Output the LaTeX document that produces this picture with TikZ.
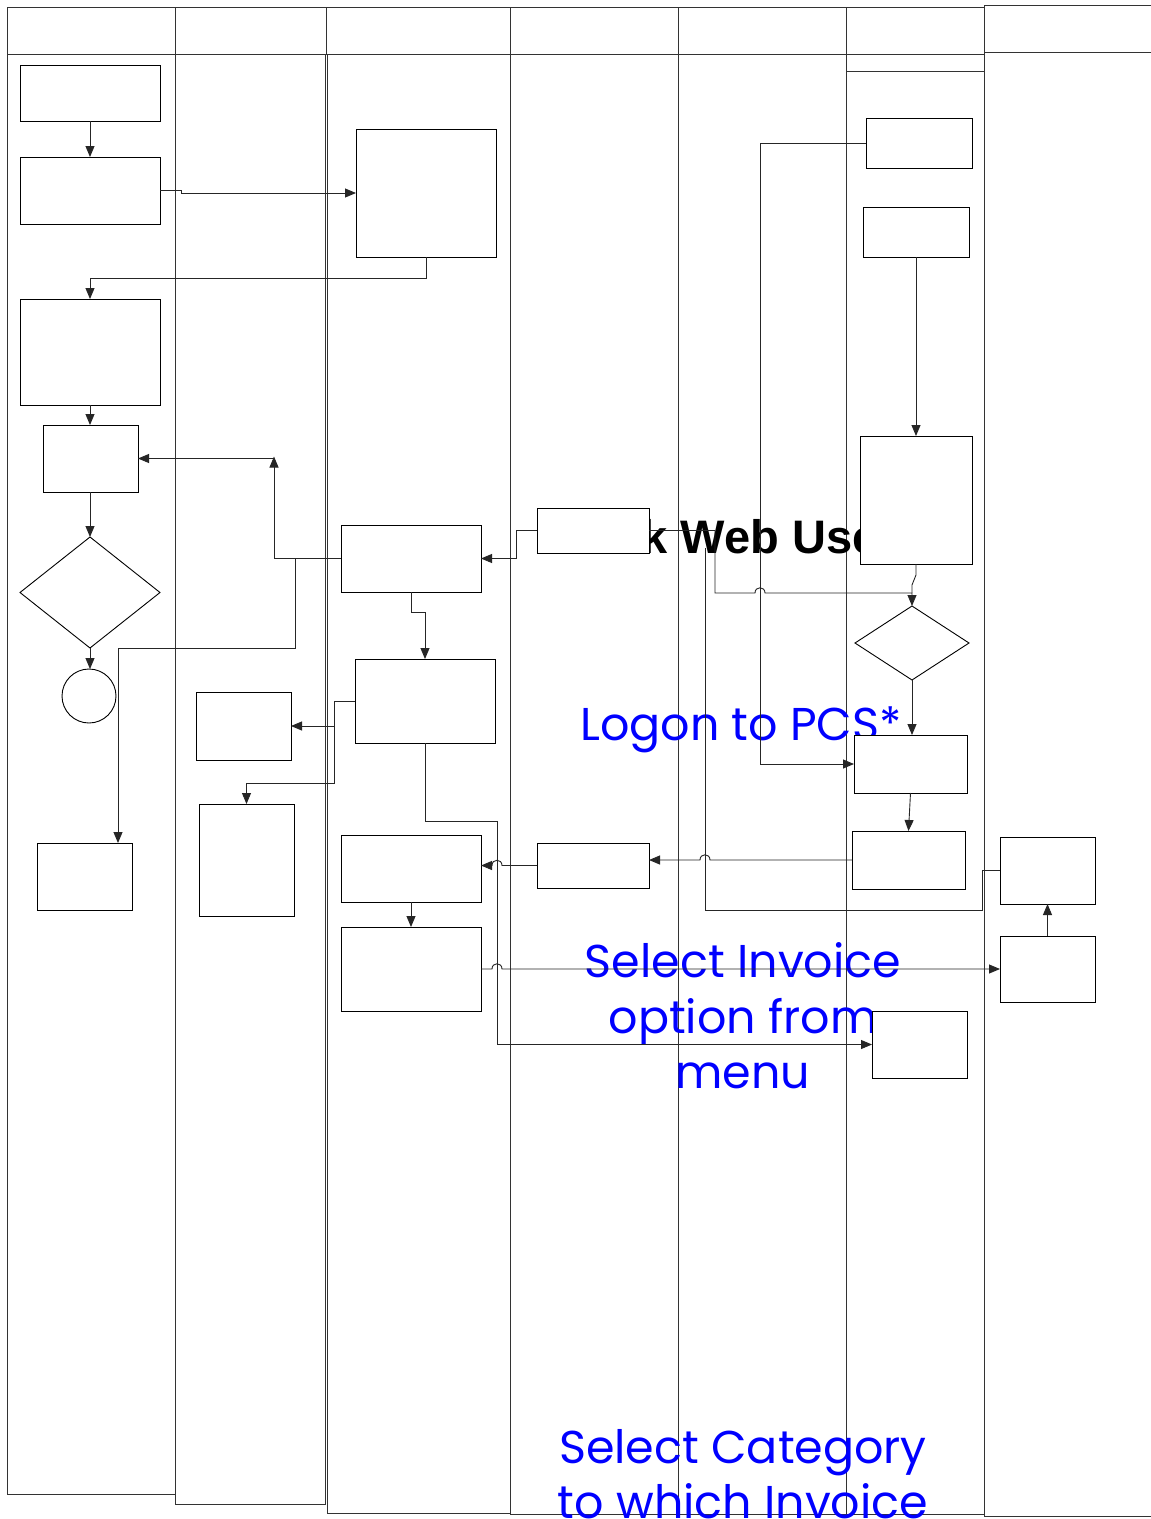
\documentclass[tikz,border=0pt]{standalone}
\usepackage{fontspec}
\setmainfont{Liberation Sans}
\newfontfamily\gothic{Poppins}
\usetikzlibrary{arrows.meta,shapes.geometric}
\begin{document}
\begin{tikzpicture}[x=1pt,y=-1pt,
  lane/.style={draw=black!80,line width=0.9pt},
  box/.style={draw,fill=white,line width=0.9pt,inner sep=0pt,outer sep=0pt,rectangle},
  dia/.style={draw,fill=white,line width=0.9pt,inner sep=0pt,outer sep=0pt,diamond},
  con/.style={line width=0.9pt,draw=black!85},
  arr/.style={-{Triangle[length=11pt,width=9pt]}},
  note/.style={text=blue,font=\gothic\fontsize{46}{57}\selectfont,align=center,inner sep=0pt},
  title/.style={text=black,font=\bfseries\fontsize{47}{50}\selectfont,inner sep=0pt}]
\useasboundingbox (0,0) rectangle (1151,1519);
\fill[white] (0,0) rectangle (1151,1519);
% swimlanes
\draw[lane] (7,7) rectangle (175,54);
\draw[lane] (175,7) rectangle (326,54);
\draw[lane] (326,7) rectangle (510,54);
\draw[lane] (510,7) rectangle (678,54);
\draw[lane] (678,7) rectangle (846,54);
\draw[lane] (846,7) rectangle (984,54);
\draw[lane] (984,5) rectangle (1151,52);
\draw[lane] (7,54) rectangle (175,1494);
\draw[lane] (175,54) rectangle (325,1504);
\draw[lane] (327,54) rectangle (510,1513);
\draw[lane] (510,54) rectangle (678,1514);
\draw[lane] (678,54) rectangle (846,1514);
\draw[lane] (846,71) rectangle (984,1514);
\draw[lane] (984,52) rectangle (1151,1516);
% texts
\node[title,anchor=base west] (ttl) at (551,553) {Work Web User};
\node[note,anchor=base west] (t1) at (580,740) {Logon to PCS*};
\node[note,anchor=base] (t2a) at (743,977) {Select Invoice};
\node[note,anchor=base] (t2b) at (743,1033) {option from};
\node[note,anchor=base] (t2c) at (743,1088) {menu};
\node[note,anchor=base] (t3a) at (743,1463) {Select Category};
\node[note,anchor=base] (t3b) at (743,1518) {to which Invoice};
% lane 1
\node[box,minimum width=140pt,minimum height=56pt] (A1) at (90,93) {};
\node[box,minimum width=140pt,minimum height=67pt] (A2) at (90,190.5) {};
\node[box,minimum width=140pt,minimum height=106pt] (A3) at (90,352) {};
\node[box,minimum width=95pt,minimum height=67pt] (A4) at (90.5,458.5) {};
\node[dia,minimum width=140pt,minimum height=111pt,aspect=1.26] (D1) at (90,592.5) {};
\node[draw,fill=white,line width=0.9pt,circle,inner sep=0pt,outer sep=0pt,minimum size=54pt] (C1) at (89,696) {};
\node[box,minimum width=95pt,minimum height=67pt] (A5) at (84.5,876.5) {};
% lane 2
\node[box,minimum width=95pt,minimum height=68pt] (B1) at (243.5,726) {};
\node[box,minimum width=95pt,minimum height=112pt] (B2) at (246.5,860) {};
% lane 3
\node[box,minimum width=140pt,minimum height=128pt] (L3a) at (426,193) {};
\node[box,minimum width=140pt,minimum height=67pt] (L3b) at (411,558.5) {};
\node[box,minimum width=140pt,minimum height=84pt] (L3c) at (425,701) {};
\node[box,minimum width=140pt,minimum height=67pt] (L3d) at (411,868.5) {};
\node[box,minimum width=140pt,minimum height=84pt] (L3e) at (411,969) {};
% lane 4
\node[box,minimum width=112pt,minimum height=45pt] (L4a) at (593,530.5) {};
\node[box,minimum width=112pt,minimum height=45pt] (L4b) at (593,865.5) {};
% lane 6
\node[box,minimum width=106pt,minimum height=50pt] (R1) at (919,143) {};
\node[box,minimum width=106pt,minimum height=50pt] (R2) at (916,232) {};
\node[box,minimum width=112pt,minimum height=128pt] (R3) at (916,500) {};
\node[dia,minimum width=114pt,minimum height=74pt,aspect=1.54] (D2) at (912,643) {};
\node[box,minimum width=113pt,minimum height=58pt] (R4) at (910.5,764) {};
\node[box,minimum width=113pt,minimum height=58pt] (R5) at (908.5,860) {};
\node[box,minimum width=95pt,minimum height=67pt] (R6) at (919.5,1044.5) {};
% lane 7
\node[box,minimum width=95pt,minimum height=67pt] (S1) at (1047.5,870.5) {};
\node[box,minimum width=95pt,minimum height=66pt] (S2) at (1047.5,969) {};
% junction coordinates
\coordinate (j1) at (274,458.5);
\coordinate (j2) at (118,648);
\coordinate (j3) at (705,548);
% connectors
\draw[con,arr] (A1.south) -- (A2.north);
\draw[con,arr] (A2.east) -- (181,190.5) -- (181,193) -- (L3a.west);
\draw[con,arr] (L3a.south) -- (426,278) -- (90,278) -- (A3.north);
\draw[con,arr] (A3.south) -- (A3.south |- A4.north);
\draw[con,arr] (A4.south -| D1.north) -- (D1.north);
\draw[con,arr] (D1.south) -- (D1.south |- C1.north);
\draw[con,arr] (L3b.west) -- (274,558.5) -- ([yshift=2pt]j1);
\draw[con,arr] (j1) -- (A4.east);
\draw[con,arr] (L3b.west) -- (295,558.5) -- (295,648) -- (j2) -- (j2 |- A5.north);
\draw[con,arr] (L3b.south) -- (411,612) -- (425,612) -- (L3c.north);
\draw[con,arr] (L3c.west) -- (334,701) -- (334,726) -- (B1.east);
\draw[con,arr] (334,726) -- (334,783) -- (246.5,783) -- (B2.north);
\draw[con,arr] (L3c.south) -- (425,821) -- (497,821) -- (497,1044.5) -- (R6.west);
\draw[con,arr] (L3d.south) -- (L3d.south |- L3e.north);
\draw[con,arr] (L3e.east) -- (492,969) .. controls (492,962) and (502,962) .. (502,969) -- (S2.west);
\draw[con,arr] (L4b.west) -- (502,865.5) .. controls (502,858.5) and (492,858.5) .. (492,865.5) -- (L3d.east |- L4b.west);
\draw[con,arr] (R5.west) -- (710,860) .. controls (710,853) and (700,853) .. (700,860) -- (R5.west -| L4b.east);
\draw[con,arr] (L4a.west) -- (516,530.5) -- (516,558.5) -- (L3b.east);
\draw[con,arr] (L4a.east) -- (715,530.5) -- (715,593) -- (755,593) .. controls (755,586) and (765,586) .. (765,593) -- (912,593) -- (D2.north);
\draw[con] (R3.south) -- (916,575) -- (912,585) -- (912,593);
\draw[con] (S1.west) -- (982,870.5) -- (982,910) -- (705,910) -- (j3);
\draw[con,arr] (R1.west) -- (760,143) -- (760,764) -- (R4.west);
\draw[con,arr] (R2.south) -- (R2.south |- R3.north);
\draw[con,arr] (D2.south) -- (D2.south |- R4.north);
\draw[con,arr] (R4.south) -- (R5.north);
\draw[con,arr] (S2.north) -- (S1.south);
\end{tikzpicture}
\end{document}
